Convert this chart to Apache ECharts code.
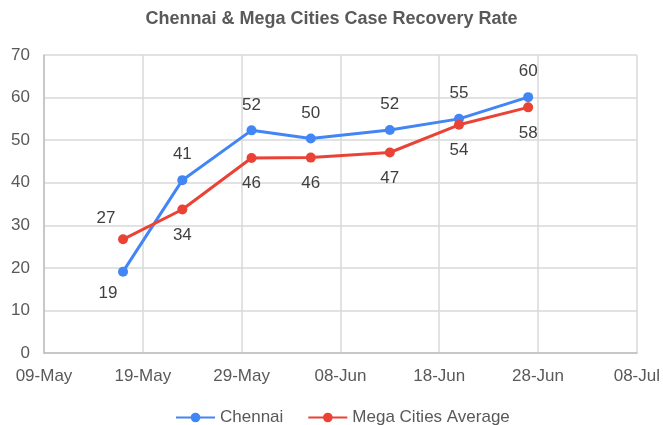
<!DOCTYPE html>
<html>
<head>
<meta charset="utf-8">
<script src="https://cdn.jsdelivr.net/npm/echarts@6/dist/echarts.min.js"></script>
<style>
  html, body { margin: 0; padding: 0; background: #ffffff; }
  #chart { width: 663px; height: 425px; }
</style>
</head>
<body>
<div id="chart"></div>
<script>
// data
var dates = ["2020-05-17", "2020-05-23", "2020-05-30", "2020-06-05", "2020-06-13", "2020-06-20", "2020-06-27"];
var chennai = [19.1, 40.6, 52.3, 50.4, 52.4, 55.0, 60.1];
var megaCities = [26.7, 33.7, 45.8, 45.9, 47.1, 53.6, 57.7];
var axisStart = "2020-05-09";
var axisDays = 60;
var tickDays = 10;
var yTicks = [0, 10, 20, 30, 40, 50, 60, 70];

var DAY = 86400000;
var startMs = Date.parse(axisStart + "T00:00:00Z");
var months = ["Jan", "Feb", "Mar", "Apr", "May", "Jun", "Jul", "Aug", "Sep", "Oct", "Nov", "Dec"];

function dayOf(s) {
  return Math.round((Date.parse(s + "T00:00:00Z") - startMs) / DAY);
}
function fmtDay(d) {
  var dt = new Date(startMs + d * DAY);
  var dd = dt.getUTCDate();
  return (dd < 10 ? "0" + dd : "" + dd) + "-" + months[dt.getUTCMonth()];
}
function pairs(vals) {
  return vals.map(function (v, i) { return [dayOf(dates[i]), v]; });
}

var blue = "#4285f4";
var red = "#ea4335";
var textFont = "Liberation Sans, Arial, sans-serif";

var chennaiData = pairs(chennai).map(function (p, i) {
  var o = { value: p };
  if (i === 0) o.label = { position: "bottom", distance: 8, offset: [-15, 0] };
  return o;
});
var megaData = pairs(megaCities).map(function (p, i) {
  var o = { value: p };
  if (i === 0) o.label = { position: "top", distance: 8, offset: [-17, 0] };
  return o;
});

var chart = echarts.init(document.getElementById("chart"));
chart.setOption({
  animation: false,
  title: {
    text: "Chennai & Mega Cities Case Recovery Rate",
    left: "center",
    top: 5,
    textStyle: { fontFamily: textFont, fontSize: 18, fontWeight: "bold", color: "#595959" }
  },
  grid: { left: 44, right: 23, top: 55, bottom: 72, containLabel: false },
  legend: {
    top: 404,
    left: 170,
    itemWidth: 39,
    itemHeight: 12,
    itemGap: 24,
    textStyle: { fontFamily: textFont, fontSize: 17, color: "#595959" },
    data: ["Chennai", "Mega Cities Average"]
  },
  xAxis: {
    type: "value",
    min: 0,
    max: axisDays,
    interval: tickDays,
    axisLine: { show: true, lineStyle: { color: "#bfbfbf", width: 1.5 } },
    axisTick: { show: false },
    splitLine: { show: true, lineStyle: { color: "#d9d9d9", width: 1.5 } },
    axisLabel: {
      formatter: fmtDay,
      fontFamily: textFont,
      fontSize: 17,
      color: "#595959",
      margin: 15,
      showMaxLabel: true,
      showMinLabel: true
    }
  },
  yAxis: {
    type: "value",
    min: yTicks[0],
    max: yTicks[yTicks.length - 1],
    interval: 10,
    axisLine: { show: true, lineStyle: { color: "#bfbfbf", width: 1.5 } },
    axisTick: { show: false },
    splitLine: { lineStyle: { color: "#d9d9d9", width: 1.5 } },
    axisLabel: { fontFamily: textFont, fontSize: 17, color: "#595959", margin: 14 }
  },
  series: [
    {
      name: "Chennai",
      type: "line",
      data: chennaiData,
      symbol: "circle",
      symbolSize: 10,
      lineStyle: { color: blue, width: 3 },
      itemStyle: { color: blue },
      label: {
        show: true,
        position: "top",
        distance: 12,
        fontFamily: textFont,
        fontSize: 17,
        color: "#404040",
        formatter: function (p) { return Math.round(p.value[1]); }
      }
    },
    {
      name: "Mega Cities Average",
      type: "line",
      data: megaData,
      symbol: "circle",
      symbolSize: 10,
      lineStyle: { color: red, width: 3 },
      itemStyle: { color: red },
      label: {
        show: true,
        position: "bottom",
        distance: 12,
        fontFamily: textFont,
        fontSize: 17,
        color: "#404040",
        formatter: function (p) { return Math.round(p.value[1]); }
      }
    }
  ]
});
</script>
</body>
</html>
